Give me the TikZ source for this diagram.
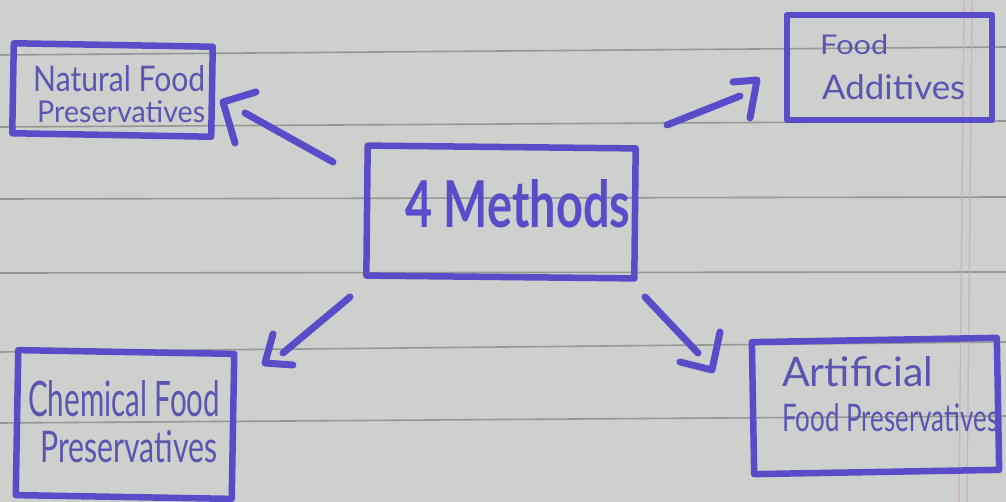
\documentclass[tikz,border=0pt]{standalone}
\usepackage{fontspec}
\setmainfont{Lato}
\usepackage{graphicx}
\definecolor{paper}{RGB}{206,208,205}
\definecolor{rule}{RGB}{150,152,150}
\definecolor{margin}{RGB}{200,180,188}
\definecolor{pen}{RGB}{88,76,200}
\definecolor{ink}{RGB}{92,84,178}
\newcommand{\hw}[3]{\resizebox{#1pt}{#2pt}{#3}}
\tikzset{
  penbox/.style={draw=pen, line width=6.5pt, line join=round, inner sep=0pt},
  penline/.style={draw=pen, line width=7pt, line cap=round, line join=round},
  handtext/.style={text=ink, inner sep=0pt, anchor=base west},
  ruleline/.style={draw=rule, line width=1.6pt},
}
\begin{document}
\begin{tikzpicture}[x=1pt,y=-1pt]
\useasboundingbox (0,0) rectangle (1006,502);
\fill[paper] (0,0) rectangle (1006,502);
% ruled lines
\foreach \a/\b in {55/47,127/121,199/197,273/272,352/342,423/416}
  \draw[ruleline] (0,\a) -- (1006,\b);
% margin lines
\draw[margin, line width=1.3pt] (964,0) -- (959,502);
\draw[margin, line width=1.3pt] (972,0) -- (967,502);

% boxes
\node[penbox, minimum width=199pt, minimum height=90pt, rotate=-1] (natural) at (112.5,90) {};
\node[penbox, minimum width=205pt, minimum height=105pt] (additives) at (889.5,67.5) {};
\node[penbox, minimum width=216pt, minimum height=145pt, rotate=-1] (chemical) at (125,424.5) {};
\node[penbox, minimum width=245pt, minimum height=132pt, rotate=1] (artificial) at (875.5,406) {};
\node[penbox, minimum width=268pt, minimum height=130pt, rotate=-0.6] (center) at (501,212) {};

% texts
\node[handtext] (natT1) at (33,92) {\hw{172}{26}{Natural Food}};
\node[handtext] (natT2) at (37,123) {\hw{168}{22}{Preservatives}};
\node[handtext] (addT1) at (820,55) {\hw{68}{20}{Food}};
\node[handtext] (addT2) at (822,100) {\hw{143}{25}{Additives}};
\node[handtext] (chemT1) at (28,416) {\hw{192}{36}{Chemical Food}};
\node[handtext] (chemT2) at (40,462) {\hw{177}{32}{Preservatives}};
\node[handtext] (artT1) at (782,386) {\hw{151}{30}{Artificial}};
\node[handtext] (artT2) at (782,431) {\hw{216}{28}{Food Preservatives}};
\node[handtext, text=pen] (cenT) at (405,228) {\hw{225}{48}{\bfseries 4 Methods}};

% arrow to natural
\coordinate (n1) at (333,162);
\coordinate (n2) at (245,113);
\coordinate (nh1) at (256,92);
\coordinate (nc) at (223,102);
\coordinate (nh2) at (235,143);
\draw[penline] (n1) -- (n2);
\draw[penline] (nh1) -- (nc) -- (nh2);

% arrow to additives
\coordinate (a1) at (667,125);
\coordinate (a2) at (740,96);
\coordinate (ah1) at (733,82);
\coordinate (ac) at (757,80);
\coordinate (ah2) at (750,118);
\draw[penline] (a1) -- (a2);
\draw[penline] (ah1) -- (ac) -- (ah2);

% arrow to chemical
\coordinate (c1) at (350,297);
\coordinate (c2) at (283,353);
\coordinate (ch1) at (273,334);
\coordinate (cc) at (265,363);
\coordinate (ch2) at (293,365);
\draw[penline] (c1) -- (c2);
\draw[penline] (ch1) -- (cc) -- (ch2);

% arrow to artificial
\coordinate (r1) at (645,297);
\coordinate (r2) at (698,353);
\coordinate (rh1) at (720,332);
\coordinate (rc) at (712,370);
\coordinate (rh2) at (680,362);
\draw[penline] (r1) -- (r2);
\draw[penline] (rh1) -- (rc) -- (rh2);
\end{tikzpicture}
\end{document}
